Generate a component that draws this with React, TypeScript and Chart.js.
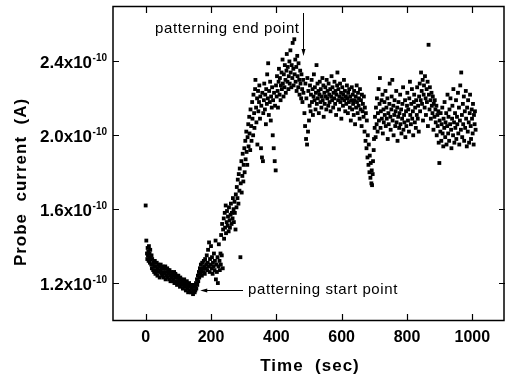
import React, { useEffect, useRef } from "react";
import { Chart, registerables } from "chart.js";

Chart.register(...registerables);

// Probe current in units of 1e-10 A, time in seconds

const baselineTimes = [
  0, 2, 4, 5, 6, 7, 8, 9, 10, 11, 12, 13, 14, 15, 17, 18, 19, 20, 22, 23,
  25, 26, 27, 28, 30, 31, 33, 34, 36, 37, 39, 40, 42, 43, 45, 46, 48, 49, 51, 52,
  54, 55, 57, 58, 60, 61, 63, 64, 66, 67, 69, 70, 72, 73, 75, 76, 78, 79, 81, 82,
  84, 85, 87, 88, 90, 91, 93, 94, 96, 97, 99, 100, 102, 103, 105, 106, 108, 109, 111, 112,
  114, 115, 117, 118, 120, 121, 123, 124, 126, 127, 129, 130, 132, 133, 135, 136, 138, 139, 141, 142,
  144, 145, 147, 148, 150,
];
const baselineCurrent = [
  1.62, 1.43, 1.36, 1.33, 1.39, 1.35, 1.37, 1.32, 1.40, 1.34, 1.36, 1.31, 1.38, 1.33, 1.30, 1.35, 1.28, 1.33, 1.30, 1.27,
  1.31, 1.26, 1.29, 1.32, 1.25, 1.29, 1.27, 1.31, 1.24, 1.28, 1.30, 1.26, 1.29, 1.23, 1.27, 1.30, 1.25, 1.28, 1.24, 1.29,
  1.26, 1.23, 1.28, 1.25, 1.29, 1.22, 1.26, 1.24, 1.28, 1.23, 1.27, 1.25, 1.22, 1.27, 1.24, 1.21, 1.26, 1.23, 1.25, 1.21,
  1.24, 1.22, 1.26, 1.20, 1.23, 1.25, 1.21, 1.24, 1.19, 1.23, 1.21, 1.24, 1.20, 1.22, 1.18, 1.23, 1.20, 1.22, 1.19, 1.21,
  1.17, 1.21, 1.19, 1.22, 1.18, 1.20, 1.16, 1.19, 1.21, 1.17, 1.19, 1.15, 1.18, 1.20, 1.16, 1.18, 1.15, 1.19, 1.17, 1.15,
  1.18, 1.14, 1.16, 1.19, 1.15,
];

const onsetTimes = [
  151, 152, 154, 155, 157, 158, 160, 161, 163, 164, 166, 167, 169, 170, 172, 173, 175, 176, 178, 179,
  181, 182, 184, 185, 187, 188, 190, 191, 193, 194, 196, 197, 199, 200, 202, 203, 205, 206, 208, 209,
  211, 212, 214, 215, 217, 218, 220, 221, 223, 224, 226, 227, 229,
];
const onsetCurrent = [
  1.18, 1.16, 1.20, 1.17, 1.22, 1.19, 1.24, 1.21, 1.26, 1.23, 1.28, 1.25, 1.30, 1.27, 1.24, 1.31, 1.28, 1.26, 1.32, 1.29,
  1.25, 1.33, 1.28, 1.30, 1.35, 1.27, 1.31, 1.38, 1.29, 1.42, 1.26, 1.33, 1.30, 1.40, 1.28, 1.34, 1.25, 1.31, 1.29, 1.36,
  1.27, 1.32, 1.43, 1.22, 1.30, 1.26, 1.34, 1.20, 1.29, 1.41, 1.32, 1.27, 1.36,
];

const riseTimes = [
  230, 231, 233, 234, 236, 237, 239, 240, 242, 243, 245, 246, 248, 249, 251, 252, 254, 255, 257, 258,
  260, 261, 263, 264, 266, 267, 269, 270, 272, 273, 275, 276, 278, 279, 281, 282, 284, 285, 287, 288,
  290, 291, 293, 294, 296, 297, 299, 300, 302, 303, 305, 306, 308, 309, 311, 312, 314, 315, 317, 318,
  320, 321, 323, 324, 326, 327, 329, 330, 332, 333, 335, 336, 338, 339, 341, 342, 344, 345, 347, 348,
  350, 351, 353, 354, 356, 357, 359, 360, 362, 363, 365, 366, 368, 369, 371, 372, 374, 375, 377, 378,
  380, 381, 383, 384, 386, 387, 389, 390, 392, 393, 395, 396, 398, 399, 401, 402, 404, 405, 407, 408,
  410, 411, 413, 414, 416, 417, 419, 420, 422, 423, 425, 426, 428, 429, 431, 432, 434, 435, 437, 438,
  440, 441, 443, 444, 446, 447, 449, 450, 452, 453, 455, 456, 458, 459, 461, 462, 464, 465, 467, 468,
  470, 471, 473, 474, 476, 477, 479, 480, 482, 483,
];
const riseCurrent = [
  1.30, 1.46, 1.35, 1.52, 1.28, 1.49, 1.55, 1.44, 1.58, 1.50, 1.62, 1.47, 1.53, 1.59, 1.51, 1.56, 1.48, 1.61, 1.54, 1.50,
  1.57, 1.63, 1.52, 1.58, 1.55, 1.66, 1.60, 1.53, 1.64, 1.58, 1.49, 1.68, 1.61, 1.72, 1.66, 1.76, 1.63, 1.79, 1.70, 1.82,
  1.34, 1.74, 1.86, 1.69, 1.78, 1.90, 1.75, 1.84, 1.93, 1.80, 1.97, 1.87, 2.02, 1.91, 1.84, 1.99, 2.06, 1.94, 2.10, 2.01,
  1.92, 2.14, 2.05, 1.97, 2.18, 2.09, 2.00, 2.22, 2.12, 2.04, 2.25, 2.30, 2.15, 2.07, 2.20, 1.95, 2.24, 2.13, 2.18, 2.27,
  2.09, 2.21, 1.93, 2.16, 1.88, 2.23, 1.86, 2.12, 2.19, 2.28, 2.14, 2.22, 2.06, 2.25, 2.17, 2.33, 2.20, 2.39, 2.11, 2.24,
  2.18, 2.29, 2.08, 2.21, 2.15, 2.26, 2.00, 2.19, 1.93, 2.23, 1.86, 2.16, 1.81, 2.27, 2.21, 2.32, 2.24, 2.15, 2.29, 2.36,
  2.22, 2.31, 2.19, 2.27, 2.34, 2.25, 2.41, 2.28, 2.21, 2.33, 2.26, 2.38, 2.30, 2.23, 2.35, 2.44, 2.29, 2.37, 2.25, 2.32,
  2.40, 2.28, 2.46, 2.34, 2.26, 2.38, 2.31, 2.50, 2.36, 2.27, 2.52, 2.33, 2.41, 2.29, 2.37, 2.24, 2.43, 2.32, 2.26, 2.39,
  2.30, 2.22, 2.35, 2.28, 2.20, 2.33, 2.25, 2.18, 2.30, 2.23,
];

const plateauTimes = [
  486, 488, 489, 491, 492, 494, 495, 497, 498, 500, 502, 503, 505, 506, 508, 509, 511, 512, 514, 515,
  517, 518, 520, 521, 523, 524, 526, 527, 529, 530, 532, 533, 535, 536, 538, 539, 541, 542, 544, 545,
  547, 548, 550, 551, 553, 554, 556, 557, 559, 560, 562, 563, 565, 566, 568, 569, 571, 572, 574, 575,
  577, 578, 580, 581, 583, 584, 586, 587, 589, 590, 592, 593, 595, 596, 598, 599, 601, 602, 604, 605,
  607, 608, 610, 611, 613, 614, 616, 617, 619, 620, 622, 623, 625, 626, 628, 629, 631, 632, 634, 635,
  637, 638, 640, 641, 643, 644, 646, 647, 649, 650, 652, 653, 655, 656, 658, 659, 661, 662, 664, 665,
  667, 668, 670, 671, 673, 674,
];
const plateauCurrent = [
  2.12, 2.05, 2.28, 1.98, 2.20, 1.95, 2.31, 2.02, 2.24, 2.08, 2.16, 2.27, 2.13, 2.22, 2.30, 2.18, 2.25, 2.11, 2.21, 2.33,
  2.19, 2.26, 2.14, 2.23, 2.38, 2.17, 2.28, 2.20, 2.24, 2.12, 2.22, 2.29, 2.18, 2.25, 2.15, 2.21, 2.31, 2.19, 2.27, 2.10,
  2.23, 2.17, 2.26, 2.21, 2.14, 2.30, 2.20, 2.24, 2.16, 2.28, 2.22, 2.18, 2.25, 2.13, 2.21, 2.32, 2.19, 2.26, 2.15, 2.23,
  2.20, 2.29, 2.17, 2.24, 2.11, 2.22, 2.27, 2.34, 2.19, 2.25, 2.14, 2.21, 2.28, 2.18, 2.23, 2.09, 2.20, 2.26, 2.16, 2.22,
  2.30, 2.19, 2.24, 2.13, 2.21, 2.17, 2.27, 2.20, 2.12, 2.23, 2.18, 2.25, 2.15, 2.21, 2.08, 2.19, 2.26, 2.14, 2.22, 2.17,
  2.11, 2.24, 2.19, 2.06, 2.21, 2.15, 2.27, 2.18, 2.12, 2.23, 2.16, 2.20, 2.09, 2.25, 2.14, 2.19, 2.05, 2.22, 2.13, 2.17,
  2.10, 2.21, 2.02, 2.15, 1.97, 2.12,
];

const dipTimes = [676, 677, 679, 680, 682, 683, 685, 686, 688, 689, 691, 692, 693, 695, 696, 698, 699, 701];
const dipCurrent = [1.93, 2.08, 1.88, 2.00, 1.84, 1.95, 1.80, 1.89, 1.77, 1.85, 1.74, 1.81, 1.73, 1.79, 1.86, 1.92, 1.98, 2.04];

const lateTimes = [
  702, 704, 705, 707, 708, 710, 711, 713, 714, 716, 717, 719, 720, 722, 723, 725, 726, 728, 729, 731,
  732, 734, 735, 737, 738, 740, 741, 743, 744, 746, 747, 749, 750, 752, 753, 755, 756, 758, 759, 761,
  762, 764, 765, 767, 768, 770, 771, 773, 774, 776, 777, 779, 780, 782, 783, 785, 786, 788, 789, 791,
  792, 794, 795, 797, 798, 800, 801, 803, 804, 806, 807, 809, 810, 812, 813, 815, 816, 818, 819, 821,
  822, 824, 825, 827, 828, 830, 831, 833, 834, 836, 837, 839, 840, 842, 843, 845, 846, 848, 849, 851,
  852, 854, 855, 857, 858, 860, 861, 863, 864, 866, 867, 869, 870, 872, 873, 875, 876, 878, 879, 881,
  882, 884, 885, 887, 888, 890, 891, 893, 894, 896, 897, 899, 900, 902, 903, 905, 906, 908, 909, 911,
  912, 914, 915, 917, 918, 920, 921, 923, 924, 926, 927, 929, 930, 932, 933, 935, 936, 938, 939, 941,
  942, 944, 945, 947, 948, 950, 951, 953, 954, 956, 957, 959, 960, 962, 963, 965, 966, 968, 969, 971,
  972, 974, 975, 977, 978, 980, 981, 983, 984, 986, 987, 989, 990, 992, 993, 995, 996, 998, 999, 1001,
  1002, 1004, 1005, 1007, 1008, 1010,
];
const lateCurrent = [
  2.10, 1.99, 2.15, 2.06, 2.20, 2.02, 2.12, 2.25, 2.08, 2.17, 2.31, 2.04, 2.13, 2.19, 2.09, 2.22, 2.01, 2.14, 2.07, 2.18,
  2.11, 2.24, 2.05, 2.15, 2.09, 2.20, 1.98, 2.12, 2.06, 2.17, 2.28, 2.10, 2.03, 2.14, 2.21, 2.30, 2.08, 2.16, 2.00, 2.11,
  2.19, 2.05, 2.13, 2.24, 2.07, 2.15, 1.97, 2.10, 2.18, 2.04, 2.12, 2.22, 2.06, 2.14, 2.01, 2.09, 2.17, 2.26, 2.03, 2.11,
  2.07, 2.19, 1.99, 2.13, 2.05, 2.16, 2.23, 2.08, 2.14, 2.02, 2.20, 2.29, 2.11, 2.06, 2.17, 2.25, 2.09, 2.13, 2.00, 2.18,
  2.22, 2.07, 2.15, 2.04, 2.19, 2.11, 2.26, 2.09, 2.16, 2.02, 2.21, 2.28, 2.13, 2.19, 2.34, 2.24, 2.17, 2.30, 2.08, 2.22,
  2.27, 2.15, 2.32, 2.20, 2.11, 2.25, 2.18, 2.29, 2.05, 2.49, 2.22, 2.14, 2.26, 2.19, 2.09, 2.23, 2.16, 2.12, 2.21, 2.03,
  2.17, 2.10, 2.19, 2.14, 2.07, 2.16, 2.00, 2.11, 2.05, 2.13, 1.96, 1.85, 2.08, 2.02, 2.12, 1.97, 2.06, 2.15, 2.01, 1.94,
  2.09, 2.04, 2.18, 1.99, 2.07, 2.12, 1.95, 2.05, 2.22, 2.01, 2.10, 1.97, 2.14, 2.06, 2.20, 2.03, 1.93, 2.09, 2.16, 2.00,
  2.25, 2.07, 1.96, 2.12, 2.04, 2.19, 1.98, 2.10, 2.06, 2.23, 2.01, 2.15, 1.95, 2.08, 2.27, 2.03, 2.34, 2.11, 1.99, 2.17,
  2.06, 2.21, 1.97, 2.13, 2.04, 2.24, 2.09, 1.94, 2.15, 2.02, 2.19, 2.07, 1.96, 2.12, 2.22, 2.05, 1.98, 2.14, 2.09, 2.01,
  2.17, 1.95, 2.11, 2.06, 2.13, 2.03,
];

const xTickValues = [0, 200, 400, 600, 800, 1000];
const yTickValues = [1.2, 1.6, 2.0, 2.4];
const yTickMantissas = ["1.2x10", "1.6x10", "2.0x10", "2.4x10"];
const yTickExponent = "-10";
const xTitle = "Time  (sec)";
const yTitle = "Probe  current  (A)";
const endNote = "patterning end point";
const startNote = "patterning start point";
const endNoteTime = 482;
const startNoteTime = 167;
const startNoteCurrent = 1.165;

const FONT = '"Liberation Sans", Arial, Helvetica, sans-serif';

function buildPoints() {
  const groups: [number[], number[]][] = [
    [baselineTimes, baselineCurrent],
    [onsetTimes, onsetCurrent],
    [riseTimes, riseCurrent],
    [plateauTimes, plateauCurrent],
    [dipTimes, dipCurrent],
    [lateTimes, lateCurrent],
  ];
  const pts: { x: number; y: number }[] = [];
  for (const [ts, vs] of groups) {
    const n = Math.min(ts.length, vs.length);
    for (let i = 0; i < n; i++) pts.push({ x: ts[i], y: vs[i] });
  }
  return pts;
}

const decorPlugin = {
  id: "decor",
  afterDraw(chart: any) {
    const ctx: CanvasRenderingContext2D = chart.ctx;
    const { left, right, top, bottom } = chart.chartArea;
    const xs = chart.scales.x;
    const ys = chart.scales.y;
    ctx.save();
    ctx.strokeStyle = "#000";
    ctx.fillStyle = "#000";
    ctx.lineWidth = 1.5;
    ctx.strokeRect(left, top + 0.5, right - left - 1, bottom - top);

    // ticks
    ctx.lineWidth = 1.2;
    ctx.beginPath();
    for (const v of xTickValues) {
      const px = Math.round(xs.getPixelForValue(v)) + 0.5;
      ctx.moveTo(px, bottom);
      ctx.lineTo(px, bottom - 6);
      ctx.moveTo(px, top);
      ctx.lineTo(px, top + 7);
    }
    for (const v of yTickValues) {
      const py = Math.round(ys.getPixelForValue(v)) + 0.5;
      ctx.moveTo(left, py);
      ctx.lineTo(left + 6, py);
      ctx.moveTo(right, py);
      ctx.lineTo(right - 6, py);
    }
    ctx.stroke();

    // x tick labels
    ctx.font = `bold 16px ${FONT}`;
    ctx.textAlign = "center";
    ctx.textBaseline = "alphabetic";
    for (const v of xTickValues) {
      ctx.fillText(String(v), xs.getPixelForValue(v), 342);
    }

    // y tick labels with superscript exponent
    yTickValues.forEach((v, i) => {
      const py = ys.getPixelForValue(v);
      ctx.font = `bold 10px ${FONT}`;
      ctx.textAlign = "right";
      const ew = ctx.measureText(yTickExponent).width;
      ctx.fillText(yTickExponent, 107, py - 0.5);
      ctx.font = `bold 17px ${FONT}`;
      ctx.fillText(yTickMantissas[i], 107 - ew - 0.5, py + 7);
    });

    // axis titles
    (ctx as any).letterSpacing = "1px";
    ctx.font = `bold 17px ${FONT}`;
    ctx.textAlign = "center";
    ctx.fillText(xTitle, 310, 371);
    ctx.save();
    ctx.translate(26, 182);
    ctx.rotate(-Math.PI / 2);
    ctx.fillText(yTitle, 0, 0);
    ctx.restore();

    // annotations
    (ctx as any).letterSpacing = "0.6px";
    ctx.font = `15px ${FONT}`;
    ctx.textAlign = "left";
    ctx.fillText(endNote, 155, 33);
    ctx.fillText(startNote, 248, 294);
    (ctx as any).letterSpacing = "0px";

    ctx.lineWidth = 1;
    const ex = Math.round(xs.getPixelForValue(endNoteTime)) + 0.5;
    ctx.beginPath();
    ctx.moveTo(ex, 13);
    ctx.lineTo(ex, 52);
    ctx.stroke();
    ctx.beginPath();
    ctx.moveTo(ex - 2, 49);
    ctx.lineTo(ex + 2, 49);
    ctx.lineTo(ex, 56);
    ctx.closePath();
    ctx.fill();

    const sx = xs.getPixelForValue(startNoteTime);
    const sy = Math.round(ys.getPixelForValue(startNoteCurrent)) + 0.5;
    ctx.beginPath();
    ctx.moveTo(sx + 4, sy);
    ctx.lineTo(243, sy);
    ctx.stroke();
    ctx.beginPath();
    ctx.moveTo(sx, sy);
    ctx.lineTo(sx + 7, sy - 2);
    ctx.lineTo(sx + 7, sy + 2);
    ctx.closePath();
    ctx.fill();
    ctx.restore();
  },
};

export default function App() {
  const canvasRef = useRef<HTMLCanvasElement | null>(null);
  useEffect(() => {
    if (!canvasRef.current) return;
    const chart = new Chart(canvasRef.current, {
      type: "scatter",
      data: {
        datasets: [
          {
            data: buildPoints(),
            pointStyle: "rect",
            pointRadius: 2.7,
            backgroundColor: "#000",
            borderWidth: 0,
            showLine: false,
          } as any,
        ],
      },
      options: {
        animation: false,
        responsive: false,
        devicePixelRatio: 1,
        events: [],
        layout: { padding: { left: 113, right: 0, top: 6, bottom: 56 } },
        plugins: { legend: { display: false }, tooltip: { enabled: false }, title: { display: false } },
        scales: {
          x: { type: "linear", min: -100, max: 1100, display: false },
          y: { type: "linear", min: 1.0, max: 2.7, display: false },
        },
      },
      plugins: [decorPlugin],
    });
    return () => chart.destroy();
  }, []);
  return (
    <div style={{ position: "fixed", left: 0, top: 0, width: 509, height: 376, background: "#fff" }}>
      <canvas ref={canvasRef} width={509} height={376} style={{ width: 509, height: 376, display: "block" }} />
    </div>
  );
}
